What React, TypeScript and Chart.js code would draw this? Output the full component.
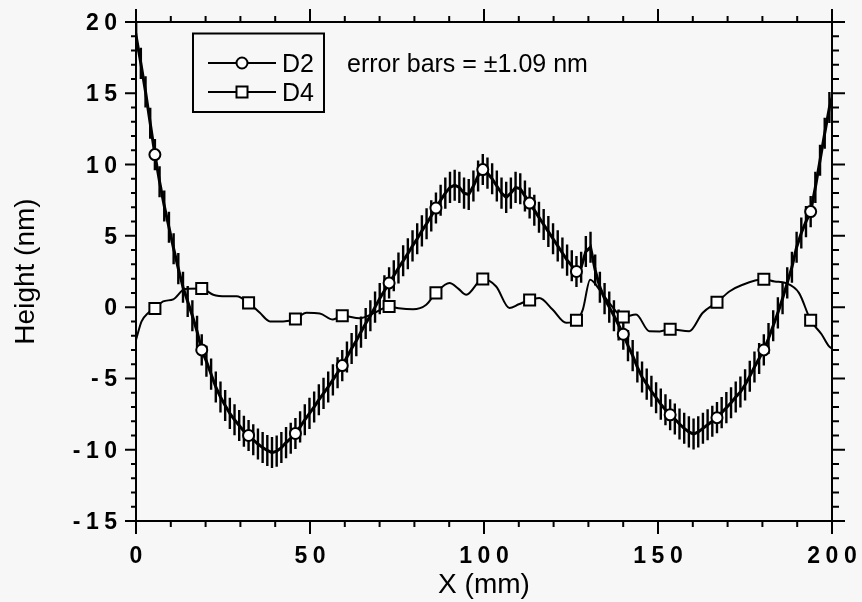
import React, { useEffect, useRef } from "react";
import { Chart, registerables } from "chart.js";

Chart.register(...registerables);

// ---- data ----
// sampling of the measured profiles (mm)
const X_START = -1.3;
const X_STEP = 1.346;

// D2 profile (nm), one value per sample
const D2 = [
  21.0, 19.0, 17.1, 15.1, 12.9, 10.7, 8.8, 7.1, 5.6, 4.1,
  2.7, 1.4, 0.4, -0.6, -1.7, -3.0, -3.8, -4.7, -5.6, -6.3,
  -6.9, -7.45, -7.9, -8.3, -8.7, -9.0, -9.3, -9.6, -9.85, -10.05,
  -10.2, -10.1, -9.85, -9.5, -9.2, -8.86, -8.4, -7.9, -7.45, -7.0,
  -6.5, -6.05, -5.6, -5.1, -4.6, -4.1, -3.5, -2.9, -2.35, -1.75,
  -1.15, -0.6, 0.0, 0.6, 1.15, 1.7, 2.2, 2.75, 3.25, 3.75,
  4.3, 4.8, 5.35, 5.85, 6.4, 6.95, 7.5, 8.0, 8.4, 8.55,
  8.4, 8.0, 7.9, 8.5, 9.2, 9.65, 9.4, 9.0, 8.5, 8.0,
  7.7, 8.0, 8.4, 8.3, 7.8, 7.3, 6.8, 6.3, 5.8, 5.3,
  4.8, 4.3, 3.8, 3.3, 2.9, 2.5, 2.8, 3.9, 4.2, 2.6,
  1.4, 0.6, 0.0, -0.6, -1.25, -1.9, -2.7, -3.4, -4.2, -4.9,
  -5.4, -5.9, -6.35, -6.8, -7.2, -7.55, -7.85, -8.2, -8.5, -8.75,
  -8.9, -8.75, -8.5, -8.25, -8.0, -7.75, -7.4, -7.05, -6.7, -6.3,
  -5.95, -5.45, -4.85, -4.2, -3.6, -3.0, -2.2, -1.3, -0.4, 0.6,
  1.7, 2.8, 4.2, 5.2, 6.0, 6.7, 8.4, 10.3, 12.2, 14.0,
  15.2,
];
const D2_ERROR = 1.09;

// D4 profile (mm, nm)
const D4_X = [
  0, 1.6, 3.5, 5.43, 7.8, 10.7, 14.1, 18.89, 22.2, 26,
  28.9, 32.35, 35.6, 38.5, 42.3, 45.81, 49, 52.8, 56.6, 59.27,
  64.3, 68.5, 72.73, 75.5, 79.6, 83.4, 86.19, 90.1, 92.6, 94.9,
  99.65, 103.5, 107.3, 110, 113.11, 115.9, 119.7, 123.6, 126.57, 128.4,
  130.5, 133.2, 136, 140.03, 143.7, 147.5, 150.5, 153.49, 159, 162.8,
  166.95, 170.5, 174.3, 180.41, 183.5, 186.7, 190.5, 193.87, 197, 199.1,
  200,
];
const D4_Y = [
  -2.3, -1.0, -0.4, -0.1, 0.4, 0.55, 1.27, 1.3, 0.87, 0.76,
  0.76, 0.3, -0.4, -1.0, -1.0, -0.83, -0.4, -0.45, -0.87, -0.6,
  -0.78, -0.4, 0.05, -0.08, -0.15, 0.17, 1.0, 1.69, 1.3, 0.87,
  1.97, 1.45, -0.06, 0.2, 0.5, 0.64, -0.17, -1.1, -0.92, -0.17,
  1.92, 1.22, 0.3, -0.69, -0.52, -1.69, -1.7, -1.55, -1.69, -0.41,
  0.34, 1.1, 1.57, 1.95, 1.8, 1.69, 1.0, -0.92, -1.9, -2.74,
  -2.9,
];

const SERIES_LABELS = ["D2", "D4"];
const ANNOTATION = "error bars = \u00b11.09 nm";
const X_TITLE = "X (mm)";
const Y_TITLE = "Height (nm)";
const X_MIN = 0, X_MAX = 200, X_MAJOR = 50, X_MINOR = 10;
const Y_MIN = -15, Y_MAX = 20, Y_MAJOR = 5, Y_MINOR = 1;

// ---- styles ----
const BG = "#f7f7f7";
const INK = "#000000";
const TICK_FONT = 'bold 23px "Liberation Sans", Arial, sans-serif';
const TITLE_FONT = '28px "Liberation Sans", Arial, sans-serif';
const TEXT_FONT = '25px "Liberation Sans", Arial, sans-serif';
const MARKER_EVERY = 10;
const MARKER_OFFSET = 5;

function isMarkerX(xv: number) {
  const n = (xv - X_START) / X_STEP;
  const r = Math.round(n);
  return Math.abs(n - r) < 0.02 && r % MARKER_EVERY === MARKER_OFFSET;
}

function drawCircle(ctx: CanvasRenderingContext2D, x: number, y: number, r: number) {
  ctx.beginPath();
  ctx.arc(x, y, r, 0, Math.PI * 2);
  ctx.fillStyle = "#ffffff";
  ctx.fill();
  ctx.lineWidth = 2;
  ctx.strokeStyle = INK;
  ctx.stroke();
}

function drawSquare(ctx: CanvasRenderingContext2D, x: number, y: number, s: number) {
  ctx.beginPath();
  ctx.rect(x - s / 2, y - s / 2, s, s);
  ctx.fillStyle = "#ffffff";
  ctx.fill();
  ctx.lineWidth = 2;
  ctx.strokeStyle = INK;
  ctx.stroke();
}

const backgroundPlugin = {
  id: "bg",
  beforeDraw(chart: any) {
    const { ctx, width, height } = chart;
    ctx.save();
    ctx.fillStyle = BG;
    ctx.fillRect(0, 0, width, height);
    ctx.restore();
  },
};

const errorBarPlugin = {
  id: "errorBars",
  beforeDatasetsDraw(chart: any) {
    const { ctx, chartArea: a, scales } = chart;
    const xs = scales.x, ys = scales.y;
    ctx.save();
    ctx.beginPath();
    ctx.rect(a.left, a.top, a.right - a.left, a.bottom - a.top);
    ctx.clip();
    ctx.strokeStyle = INK;
    ctx.lineWidth = 2.4;
    ctx.beginPath();
    D2.forEach((v, i) => {
      const xv = X_START + i * X_STEP;
      const px = xs.getPixelForValue(xv);
      ctx.moveTo(px, ys.getPixelForValue(v + D2_ERROR));
      ctx.lineTo(px, ys.getPixelForValue(v - D2_ERROR));
    });
    ctx.stroke();
    ctx.restore();
  },
};

const framePlugin = {
  id: "frame",
  afterDraw(chart: any) {
    const { ctx, chartArea: a, scales } = chart;
    const xs = scales.x, ys = scales.y;
    ctx.save();
    ctx.strokeStyle = INK;
    ctx.lineWidth = 2;
    ctx.strokeRect(a.left, a.top, a.right - a.left, a.bottom - a.top);

    ctx.beginPath();
    for (let v = X_MIN; v <= X_MAX + 1e-9; v += X_MINOR) {
      const px = xs.getPixelForValue(v);
      const major = Math.abs(v % X_MAJOR) < 1e-6;
      ctx.moveTo(px, a.bottom);
      ctx.lineTo(px, a.bottom + (major ? 13 : 6));
      ctx.moveTo(px, a.top);
      ctx.lineTo(px, a.top - (major ? 13 : 6));
    }
    for (let v = Y_MIN; v <= Y_MAX + 1e-9; v += Y_MINOR) {
      const py = ys.getPixelForValue(v);
      const major = Math.abs(v % Y_MAJOR) < 1e-6;
      ctx.moveTo(a.left, py);
      ctx.lineTo(a.left - (major ? 11 : 5), py);
      ctx.moveTo(a.right, py);
      ctx.lineTo(a.right + (major ? 13 : 7), py);
    }
    ctx.stroke();

    // tick labels
    const spacing = 5.5;
    ctx.fillStyle = INK;
    ctx.font = TICK_FONT;
    (ctx as any).letterSpacing = spacing + "px";
    ctx.textBaseline = "alphabetic";
    ctx.textAlign = "center";
    xs.ticks.forEach((t: any) => {
      const px = xs.getPixelForValue(t.value);
      ctx.fillText(String(t.value), px + spacing / 2, 563);
    });
    ctx.textAlign = "right";
    ys.ticks.forEach((t: any) => {
      const py = ys.getPixelForValue(t.value);
      ctx.fillText(String(t.value), a.left - 19 + spacing, py + 8);
    });
    (ctx as any).letterSpacing = "0px";

    // axis titles
    ctx.font = TITLE_FONT;
    ctx.textAlign = "center";
    ctx.fillText(X_TITLE, (a.left + a.right) / 2, 593);
    ctx.save();
    ctx.translate(34, (a.top + a.bottom) / 2);
    ctx.rotate(-Math.PI / 2);
    ctx.fillText(Y_TITLE, 0, 0);
    ctx.restore();

    // legend
    const lx = 193, ly = 33.5, lw = 131, lh = 78.5;
    ctx.lineWidth = 2;
    ctx.strokeStyle = INK;
    ctx.strokeRect(lx, ly, lw, lh);
    const rows = [63, 92];
    const labels = chart.data.datasets.map((d: any) => d.label);
    rows.forEach((ry, k) => {
      ctx.beginPath();
      ctx.lineWidth = 1.8;
      ctx.moveTo(208, ry);
      ctx.lineTo(276, ry);
      ctx.stroke();
      if (k === 0) drawCircle(ctx, 242, ry, 5.5);
      else drawSquare(ctx, 242, ry, 11);
      ctx.fillStyle = INK;
      ctx.font = TEXT_FONT;
      ctx.textAlign = "left";
      ctx.textBaseline = "alphabetic";
      ctx.fillText(labels[k], 282, ry + 9);
    });

    // annotation
    ctx.font = TEXT_FONT;
    ctx.textAlign = "left";
    ctx.fillText(ANNOTATION, 347, 72);
    ctx.restore();
  },
};

export default function App() {
  const canvasRef = useRef<HTMLCanvasElement | null>(null);

  useEffect(() => {
    if (!canvasRef.current) return;
    const d2Data = D2.map((v, i) => ({ x: X_START + i * X_STEP, y: v }));
    const d4Data = D4_X.map((x, i) => ({ x, y: D4_Y[i] }));
    const chart = new Chart(canvasRef.current, {
      type: "line",
      data: {
        datasets: [
          {
            label: SERIES_LABELS[0],
            data: d2Data,
            borderColor: INK,
            borderWidth: 3,
            tension: 0,
            pointStyle: "circle",
            pointRadius: (c: any) => (c.dataIndex % MARKER_EVERY === MARKER_OFFSET ? 5.5 : 0),
            pointHoverRadius: 0,
            pointBackgroundColor: "#ffffff",
            pointBorderColor: INK,
            pointBorderWidth: 2,
            clip: 0,
          } as any,
          {
            label: SERIES_LABELS[1],
            data: d4Data,
            borderColor: INK,
            borderWidth: 2,
            cubicInterpolationMode: "monotone",
            pointStyle: "rect",
            pointRadius: (c: any) => (isMarkerX(D4_X[c.dataIndex]) ? 7.8 : 0),
            pointHoverRadius: 0,
            pointBackgroundColor: "#ffffff",
            pointBorderColor: INK,
            pointBorderWidth: 2,
            clip: 0,
          } as any,
        ],
      },
      options: {
        responsive: false,
        animation: false,
        events: [],
        layout: { padding: { left: 0, right: 30, top: 22, bottom: 0 } },
        plugins: { legend: { display: false }, tooltip: { enabled: false } },
        scales: {
          x: {
            type: "linear",
            min: X_MIN,
            max: X_MAX,
            ticks: { display: false, stepSize: X_MAJOR },
            grid: { display: false },
            border: { display: false },
            afterFit: (s: any) => {
              s.height = 81;
            },
          },
          y: {
            type: "linear",
            min: Y_MIN,
            max: Y_MAX,
            ticks: { display: false, stepSize: Y_MAJOR },
            grid: { display: false },
            border: { display: false },
            afterFit: (s: any) => {
              s.width = 136;
            },
          },
        },
      },
      plugins: [backgroundPlugin, errorBarPlugin, framePlugin],
    });
    return () => chart.destroy();
  }, []);

  return (
    <div style={{ position: "absolute", left: 0, top: 0, width: 862, height: 602 }}>
      <canvas ref={canvasRef} width={862} height={602} style={{ display: "block" }} />
    </div>
  );
}
